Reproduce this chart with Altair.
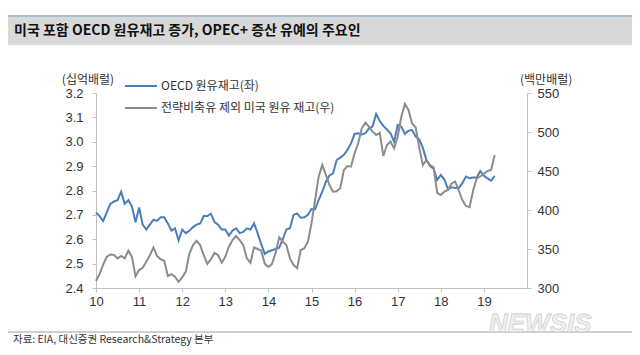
import altair as alt
import pandas as pd

# monthly data, Jan 2010 .. Apr 2019
oecd = [2.71, 2.695, 2.675, 2.71, 2.745, 2.755, 2.76, 2.795, 2.745, 2.76,
        2.735, 2.67, 2.73, 2.66, 2.64, 2.66, 2.68, 2.675, 2.69, 2.69,
        2.665, 2.635, 2.645, 2.595, 2.64, 2.625, 2.635, 2.65, 2.66, 2.665,
        2.695, 2.695, 2.705, 2.67, 2.66, 2.64, 2.64, 2.615, 2.635, 2.645,
        2.625, 2.63, 2.645, 2.64, 2.665, 2.625, 2.58, 2.54, 2.55, 2.555,
        2.56, 2.565, 2.60, 2.64, 2.645, 2.70, 2.706, 2.688, 2.69, 2.70,
        2.724, 2.723, 2.761, 2.795, 2.836, 2.862, 2.87, 2.925, 2.935, 2.946,
        2.966, 2.993, 3.032, 3.035, 3.03, 3.035, 3.055, 3.062, 3.114, 3.085,
        3.065, 3.05, 3.035, 3.0, 3.069, 3.062, 3.032, 3.045, 3.048, 3.021,
        3.01, 2.975, 2.925, 2.90, 2.89, 2.843, 2.864, 2.845, 2.806, 2.813,
        2.81, 2.81, 2.83, 2.857, 2.85, 2.853, 2.853, 2.88, 2.86, 2.85,
        2.84, 2.86]
us = [309, 318, 330, 340, 343, 342.5, 338, 341, 338, 347.8,
      340, 315, 323, 326, 333.7, 342, 352, 341, 336.8, 335,
      315.4, 317.6, 314.5, 308, 313.7, 321, 344, 355, 360.6, 355,
      342, 330.8, 337, 345, 342, 332.4, 340, 353, 361.5, 366.7,
      361.5, 355, 338, 332.4, 352, 350, 348, 331, 327, 331,
      345, 365, 359.4, 355, 338, 329.5, 325.5, 348.7, 350.9, 359.4,
      382.9, 412.8, 442.7, 457.7, 444.9, 432, 423.5, 424, 428, 451,
      456.4, 455.5, 472.7, 485.5, 504.7, 511.9, 506.8, 500.4, 496.2, 499,
      469.2, 483.3, 487.6, 479.1, 494, 519.6, 535.9, 528.2, 511, 506,
      480, 457.7, 464.1, 457.7, 454.7, 422, 419.2, 423.5, 425.6, 434,
      436.3, 425, 412.8, 405.1, 403.5, 425, 440.6, 443, 446.5, 450,
      451.3, 470.5]
years = list(range(2010, 2020))

title = "미국 포함 OECD 원유재고 증가, OPEC+ 증산 유예의 주요인"
source = "자료: EIA, 대신증권 Research&Strategy 본부"
left_unit = "(십억배럴)"
right_unit = "(백만배럴)"
label_oecd = "OECD 원유재고(좌)"
label_us = "전략비축유 제외 미국 원유 재고(우)"

df = pd.DataFrame({
    "t": [2010 + i / 12 for i in range(len(oecd))],
    "oecd": oecd,
    "us": us,
})

BLUE = "#4a7ebb"
GRAY = "#8c8c8c"
AX = "#c0c0c0"
TXT = "#333333"
NUM_FONT = "Liberation Sans"
KR_FONT = "Noto Sans CJK KR"

xenc = alt.X("t:Q", scale=alt.Scale(domain=[2010, 2020], nice=False, zero=False),
             axis=alt.Axis(values=years, labelExpr="substring(toString(datum.value), 2, 4)",
                           title=None, grid=False, domainColor=AX, tickColor=AX,
                           tickSize=4, labelPadding=3, labelFontSize=13,
                           labelColor=TXT, labelFont=NUM_FONT, labelFlush=False))

base = alt.Chart(df)

blue = base.mark_line(color=BLUE, strokeWidth=2).encode(
    x=xenc,
    y=alt.Y("oecd:Q", scale=alt.Scale(domain=[2.4, 3.2], nice=False, zero=False),
            axis=alt.Axis(values=[2.4, 2.5, 2.6, 2.7, 2.8, 2.9, 3.0, 3.1, 3.2], format=".1f",
                          title=None, grid=False, orient="left", domainColor=AX,
                          tickColor=AX, tickSize=4, labelPadding=9, labelFontSize=13,
                          labelColor=TXT, labelFont=NUM_FONT)),
)

gray = base.mark_line(color=GRAY, strokeWidth=2).encode(
    x=xenc,
    y=alt.Y("us:Q", scale=alt.Scale(domain=[300, 550], nice=False, zero=False),
            axis=alt.Axis(values=[300, 350, 400, 450, 500, 550], title=None, grid=False,
                          orient="right", domainColor=AX, tickColor=AX, tickSize=4,
                          labelPadding=6, labelFontSize=13, labelColor=TXT,
                          labelFont=NUM_FONT)),
)

one = alt.Data(values=[{"a": 1}])

title_bg = alt.Chart(one).mark_rect(color="#d9d9d9").encode(
    x=alt.value(-91), x2=alt.value(539), y=alt.value(-76), y2=alt.value(-48))
title_line = alt.Chart(one).mark_rule(color="#8fa8c8", strokeWidth=1.5).encode(
    x=alt.value(-91), x2=alt.value(539), y=alt.value(-77))
title_txt = alt.Chart(one).mark_text(align="left", baseline="middle", fontSize=14,
                                     fontWeight="bold", font=KR_FONT, color="#111111").encode(
    x=alt.value(-82), y=alt.value(-62), text=alt.value(title))

foot_line = alt.Chart(one).mark_rule(color="#a0a0a0", strokeWidth=1).encode(
    x=alt.value(-91), x2=alt.value(539), y=alt.value(239))
foot_txt = alt.Chart(one).mark_text(align="left", baseline="middle", fontSize=10.5,
                                    font=KR_FONT, color=TXT).encode(
    x=alt.value(-83), y=alt.value(247), text=alt.value(source))
watermark = alt.Chart(one).mark_text(align="left", baseline="middle", fontSize=26,
                                     fontWeight="bold", fontStyle="italic", font=NUM_FONT,
                                     color="#f2f2f2", stroke="#d0d0d0", strokeWidth=0.8).encode(
    x=alt.value(393), y=alt.value(231), text=alt.value("NEWSIS"))

lunit = alt.Chart(one).mark_text(align="center", baseline="middle", fontSize=12,
                                 font=KR_FONT, color=TXT).encode(
    x=alt.value(-8), y=alt.value(-13), text=alt.value(left_unit))
runit = alt.Chart(one).mark_text(align="left", baseline="middle", fontSize=12,
                                 font=KR_FONT, color=TXT).encode(
    x=alt.value(424), y=alt.value(-13), text=alt.value(right_unit))

leg1 = alt.Chart(one).mark_rule(color=BLUE, strokeWidth=2).encode(
    x=alt.value(29), x2=alt.value(61), y=alt.value(-7))
leg1t = alt.Chart(one).mark_text(align="left", baseline="middle", fontSize=12,
                                 font=KR_FONT, color=TXT).encode(
    x=alt.value(65), y=alt.value(-7), text=alt.value(label_oecd))
leg2 = alt.Chart(one).mark_rule(color=GRAY, strokeWidth=2).encode(
    x=alt.value(29), x2=alt.value(61), y=alt.value(15))
leg2t = alt.Chart(one).mark_text(align="left", baseline="middle", fontSize=12,
                                 font=KR_FONT, color=TXT).encode(
    x=alt.value(65), y=alt.value(15), text=alt.value(label_us))

chart = alt.layer(
    title_bg, title_line, title_txt, foot_line, watermark, foot_txt,
    blue, gray, lunit, runit, leg1, leg1t, leg2, leg2t
).resolve_scale(y="independent").properties(
    width=431, height=195,
    autosize=alt.AutoSizeParams(type="none"),
    padding={"left": 88, "top": 85, "right": 105, "bottom": 59},
    background="white",
).configure_view(stroke=None)

chart.save("out.html", embed_options={"renderer": "svg", "actions": False})
